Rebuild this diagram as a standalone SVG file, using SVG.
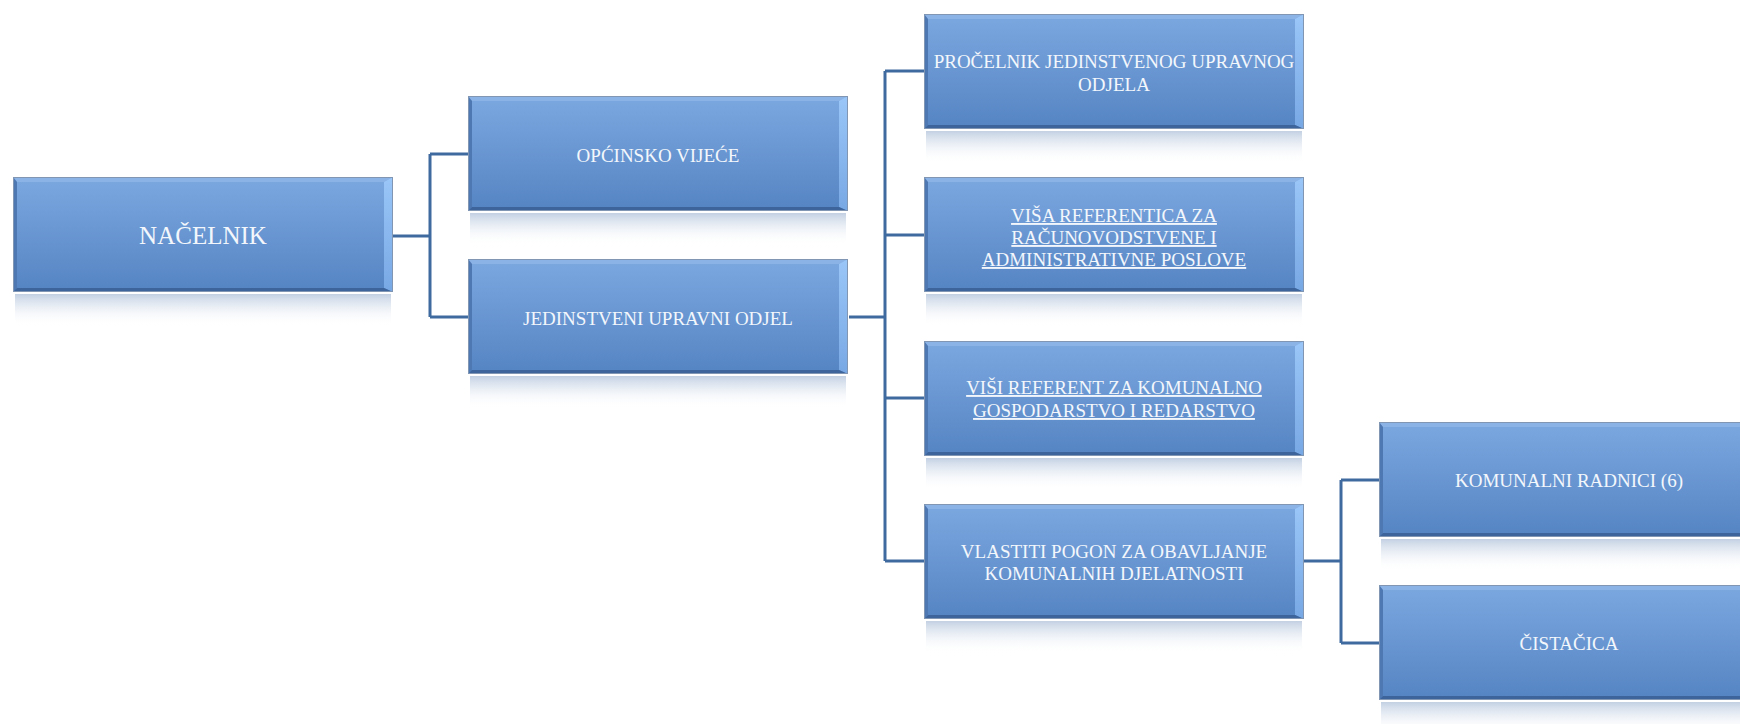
<svg xmlns="http://www.w3.org/2000/svg" xmlns:xlink="http://www.w3.org/1999/xlink" width="1740" height="724" viewBox="0 0 1740 724">
<style>
.t{font-family:"Liberation Serif","Times New Roman",serif;font-size:19px;fill:#f3f7fc;text-anchor:middle}
.big{font-size:25px}
.u{text-decoration:underline}
.c{fill:none;stroke:#3f6a9f;stroke-width:3;stroke-linejoin:miter}
</style>
<defs>
<linearGradient id="main" x1="0" y1="0" x2="0" y2="1">
<stop offset="0" stop-color="#7ca8e0"/>
<stop offset="1" stop-color="#5584c3"/>
</linearGradient>
<linearGradient id="refl" x1="0" y1="0" x2="0" y2="1">
<stop offset="0" stop-color="#b8c8de" stop-opacity="0.85"/>
<stop offset="1" stop-color="#ffffff" stop-opacity="0"/>
</linearGradient>
<linearGradient id="rb" x1="0" y1="0" x2="0" y2="1">
<stop offset="0" stop-color="#9ac6f8"/>
<stop offset="1" stop-color="#78a8e4"/>
</linearGradient>
<g id="box">
<rect x="2" y="117" width="376" height="32" fill="url(#refl)"/>
<rect x="0" y="0" width="380" height="115" fill="url(#main)"/>
<polygon points="0,0 380,0 371,5 4,5" fill="#8bb3e6"/>
<polygon points="0,0 4,5 4,111 0,115" fill="#4e78b2"/>
<polygon points="380,0 380,115 371,111 371,5" fill="url(#rb)"/>
<polygon points="0,115 380,115 371,111 4,111" fill="#3d659c"/>
<rect x="0.5" y="0.5" width="379" height="114" fill="none" stroke="#8096b3" stroke-width="1"/>
</g>
</defs>

<g id="connectors">
<path class="c" d="M393,236 H430 M430,154 V317 M430,154 H468 M430,317 H468"/>
<path class="c" d="M849,317 H885 M885,71 V561 M885,71 H924 M885,235 H924 M885,398 H924 M885,561 H924"/>
<path class="c" d="M1304,561 H1341 M1341,480 V643 M1341,480 H1379 M1341,643 H1379"/>
</g>

<g id="nacelnik">
<use xlink:href="#box" x="13" y="177"/>
<text class="t big" x="203" y="244">NAČELNIK</text>
</g>

<g id="opcinsko-vijece">
<use xlink:href="#box" x="468" y="96"/>
<text class="t" x="658" y="162">OPĆINSKO VIJEĆE</text>
</g>

<g id="jedinstveni-upravni-odjel">
<use xlink:href="#box" x="468" y="259"/>
<text class="t" x="658" y="325">JEDINSTVENI UPRAVNI ODJEL</text>
</g>

<g id="procelnik">
<use xlink:href="#box" x="924" y="14"/>
<text class="t" x="1114" y="68">PROČELNIK JEDINSTVENOG UPRAVNOG</text>
<text class="t" x="1114" y="91">ODJELA</text>
</g>

<g id="visa-referentica">
<use xlink:href="#box" x="924" y="177"/>
<text class="t u" x="1114" y="222">VIŠA REFERENTICA ZA</text>
<text class="t u" x="1114" y="244">RAČUNOVODSTVENE I</text>
<text class="t u" x="1114" y="266">ADMINISTRATIVNE POSLOVE</text>
</g>

<g id="visi-referent">
<use xlink:href="#box" x="924" y="341"/>
<text class="t u" x="1114" y="394">VIŠI REFERENT ZA KOMUNALNO</text>
<text class="t u" x="1114" y="417">GOSPODARSTVO I REDARSTVO</text>
</g>

<g id="vlastiti-pogon">
<use xlink:href="#box" x="924" y="504"/>
<text class="t" x="1114" y="558">VLASTITI POGON ZA OBAVLJANJE</text>
<text class="t" x="1114" y="580">KOMUNALNIH DJELATNOSTI</text>
</g>

<g id="komunalni-radnici">
<use xlink:href="#box" x="1379" y="422"/>
<text class="t" x="1569" y="487">KOMUNALNI RADNICI (6)</text>
</g>

<g id="cistacica">
<use xlink:href="#box" x="1379" y="585"/>
<text class="t" x="1569" y="650">ČISTAČICA</text>
</g>
</svg>
